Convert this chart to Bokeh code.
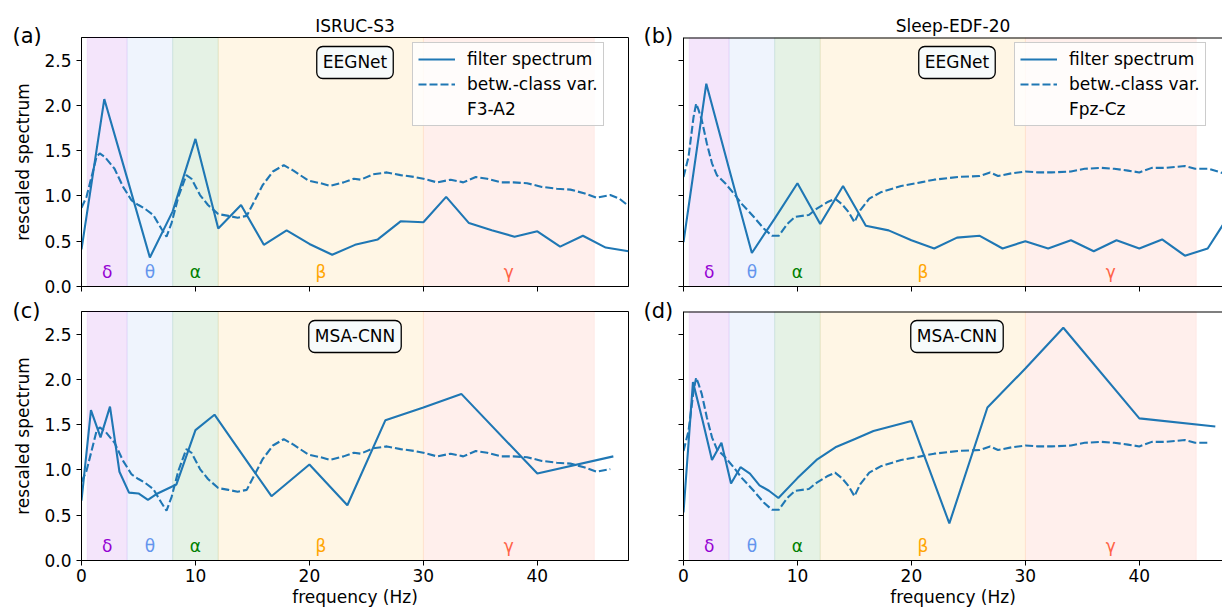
from bokeh.plotting import figure
from bokeh.models import (Range1d, FixedTicker, PrintfTickFormatter, BoxAnnotation, Label,
                          Legend, LegendItem, Span, ColumnDataSource, Title)
from bokeh.layouts import column, row
from bokeh.core.properties import value
from bokeh.embed import file_html
from bokeh.resources import INLINE

FONT = "DejaVu Sans"
BLUE = "#1f77b4"

# ---------------- data ----------------
# between-class variance (dense spectra)
isruc_var_f = [0, 0.44, 1.32, 1.6, 2.05, 2.9, 3.65, 4.4, 5.0, 5.55, 6.3, 7.0, 7.46, 7.9, 8.5, 9.2,
               9.65, 10.4, 11.1, 12.0, 12.9, 13.7, 14.5, 15.2, 15.9, 16.8, 17.75, 18.6, 19.9, 21.0,
               21.8, 23.0, 23.9, 24.5, 25.6, 26.8, 28.0, 29.2, 30.0, 31.2, 32.4, 33.5, 34.6, 35.6,
               36.8, 37.9, 39.1, 40.4, 41.7, 42.9, 44.1, 45.2, 46.4, 47.2, 48.0]
isruc_var_v = [0.87, 0.99, 1.43, 1.47, 1.43, 1.30, 1.10, 0.95, 0.90, 0.86, 0.79, 0.64, 0.55, 0.70,
               0.99, 1.23, 1.19, 1.01, 0.90, 0.80, 0.78, 0.76, 0.78, 0.95, 1.12, 1.27, 1.34, 1.28,
               1.17, 1.14, 1.11, 1.15, 1.19, 1.18, 1.24, 1.26, 1.23, 1.21, 1.19, 1.15, 1.18, 1.15,
               1.21, 1.19, 1.15, 1.15, 1.14, 1.10, 1.08, 1.07, 1.03, 0.98, 1.01, 0.97, 0.89]
edf_var_f = [0, 0.44, 0.88, 1.11, 1.32, 1.6, 2.05, 2.5, 2.93, 3.66, 4.4, 5.13, 6.16, 7.04, 7.77,
             8.36, 9.1, 9.8, 11.0, 11.7, 12.6, 13.3, 13.9, 14.5, 15.0, 15.5, 16.3, 17.3, 19.1,
             20.8, 22.0, 24.1, 26.0, 26.9, 27.6, 28.8, 30.0, 31.1, 32.3, 34.0, 35.2, 36.7, 37.8,
             39.0, 40.0, 41.1, 42.3, 44.0, 44.9, 46.1, 47.4, 48.0]
edf_var_v = [1.21, 1.43, 1.87, 2.02, 1.95, 1.84, 1.58, 1.36, 1.23, 1.14, 1.03, 0.91, 0.77, 0.64,
             0.56, 0.56, 0.69, 0.77, 0.79, 0.86, 0.93, 0.97, 0.91, 0.82, 0.71, 0.84, 0.97, 1.04,
             1.11, 1.15, 1.18, 1.21, 1.22, 1.26, 1.22, 1.25, 1.27, 1.26, 1.26, 1.27, 1.30, 1.31,
             1.30, 1.28, 1.26, 1.31, 1.31, 1.33, 1.30, 1.30, 1.25, 1.22]

# EEGNet filter spectra
eegnet_f = [0, 2, 4, 6, 8, 10, 12, 14, 16, 18, 20, 22, 24, 26, 28, 30, 32, 34, 36, 38, 40, 42, 44, 46, 48]
isruc_eegnet_v = [0.41, 2.07, 1.20, 0.32, 0.83, 1.63, 0.64, 0.90, 0.46, 0.62, 0.47, 0.35, 0.46,
                  0.52, 0.72, 0.71, 0.99, 0.70, 0.62, 0.55, 0.61, 0.44, 0.56, 0.43, 0.39]
edf_eegnet_v = [0.49, 2.24, 1.30, 0.37, 0.75, 1.14, 0.69, 1.11, 0.67, 0.62, 0.51, 0.42, 0.54,
                0.56, 0.42, 0.50, 0.42, 0.51, 0.39, 0.51, 0.42, 0.52, 0.34, 0.42, 0.81]

# MSA-CNN filter spectra
msa_f = [0, 0.83, 1.67, 2.5, 3.33, 4.17, 5.0, 5.83, 6.67, 7.5, 8.33, 10.0, 11.67, 13.33, 15.0,
         16.67, 20.0, 23.33, 26.67, 30.0, 33.33, 40.0, 46.67]
isruc_msa_v = [0.66, 1.66, 1.36, 1.70, 0.98, 0.75, 0.74, 0.67, 0.74, 0.79, 0.84, 1.44, 1.61,
               1.31, 1.01, 0.71, 1.06, 0.61, 1.55, 1.69, 1.84, 0.96, 1.15]
edf_msa_v = [0.53, 1.97, 1.55, 1.11, 1.30, 0.85, 1.03, 0.96, 0.83, 0.77, 0.69, 0.91, 1.11, 1.25,
             1.34, 1.43, 1.54, 0.41, 1.69, 2.12, 2.57, 1.57, 1.48]

band_names = ["δ", "θ", "α", "β", "γ"]
band_lo = [0.5, 4, 8, 12, 30]
band_hi = [4, 8, 12, 30, 45]
band_colors = ["#9400D3", "#6495ED", "#008000", "#FFA500", "#FF6347"]

datasets = ["ISRUC-S3", "Sleep-EDF-20"]
channels = ["F3-A2", "Fpz-Cz"]
models = ["EEGNet", "MSA-CNN"]
letters = ["(a)", "(b)", "(c)", "(d)"]
y_ticks = [0, 0.5, 1.0, 1.5, 2.0, 2.5]
x_ticks = [0, 10, 20, 30, 40]
y_top = 2.75
msa_cut = 46.7  # dense curves in the lower panels stop at the last MSA-CNN frequency


def style_axis(ax, show_labels):
    ax.major_tick_out = 5
    ax.major_tick_in = 0
    ax.minor_tick_line_color = None
    ax.axis_line_color = "black"
    ax.axis_line_width = 1
    ax.major_tick_line_color = "black"
    ax.major_label_text_font = FONT
    ax.axis_label_text_font = FONT
    ax.axis_label_text_font_size = "17px"
    ax.axis_label_text_font_style = "normal"
    ax.axis_label_text_color = "black"
    if show_labels:
        ax.major_label_text_font_size = "17px"
        ax.major_label_text_color = "black"
    else:
        ax.major_label_text_font_size = "1px"
        ax.major_label_text_color = None
        ax.major_label_standoff = 0


def make_panel(idx, left_col, top_row, fs, vs, fd, vd):
    ds = 0 if left_col else 1
    if left_col:
        width, lb, rb, xmax = 638, 81, 10, 48.0
    else:
        width, lb, rb, xmax = 584, 45, 0, 47.3
    if top_row:
        height, tb, bb = 298, 37, 12
    else:
        height, tb, bb = 312, 13, 50
    p = figure(width=width, height=height, output_backend="svg", toolbar_location=None,
               title_location=None,
               x_range=Range1d(0, xmax), y_range=Range1d(0, y_top),
               min_border_left=lb, min_border_right=rb, min_border_top=tb, min_border_bottom=bb,
               x_axis_label=None if top_row else "frequency (Hz)",
               y_axis_label="rescaled spectrum" if left_col else None)
    p.grid.visible = False
    p.background_fill_color = "white"
    p.border_fill_color = "white"
    p.outline_line_color = "black" if left_col else None
    p.outline_line_width = 1

    style_axis(p.xaxis[0], not top_row)
    style_axis(p.yaxis[0], left_col)
    p.xaxis.ticker = FixedTicker(ticks=x_ticks)
    p.yaxis.ticker = FixedTicker(ticks=y_ticks)
    p.yaxis.formatter = PrintfTickFormatter(format="%.1f")
    p.yaxis.axis_label_standoff = 8
    p.xaxis.axis_label_standoff = 2
    p.xaxis.major_label_standoff = 3

    if not left_col:
        # top spine only (the right edge of the right-hand panels is cut off)
        p.add_layout(Span(location=y_top, dimension="width", line_color="black", line_width=2))

    # panel letter (innermost title, pulled down over the frame edge)
    p.add_layout(Title(text=letters[idx], align="left", vertical_align="bottom",
                       offset=-69 if left_col else -40,
                       standoff=-20 if top_row else -22,
                       text_font=FONT, text_font_size="21px", text_font_style="normal",
                       text_color="black"), "above")
    if top_row:
        p.add_layout(Title(text=datasets[ds], align="center", vertical_align="bottom",
                           standoff=-8, text_font=FONT, text_font_size="17px",
                           text_font_style="normal", text_color="black"), "above")

    for lo, hi, c in zip(band_lo, band_hi, band_colors):
        p.add_layout(BoxAnnotation(left=lo, right=hi, fill_color=c, fill_alpha=0.1,
                                   line_color=c, line_alpha=0.08, line_width=1, level="underlay"))
    src = ColumnDataSource(dict(x=[(a + b) / 2 for a, b in zip(band_lo, band_hi)],
                                y=[0.165] * len(band_names), t=band_names, c=band_colors))
    p.text(x="x", y="y", text="t", text_color="c", source=src, text_align="center",
           text_baseline="middle", text_font=value(FONT), text_font_size="17px")

    r_solid = p.line(fs, vs, line_color=BLUE, line_width=2.1)
    r_dash = p.line(fd, vd, line_color=BLUE, line_width=2.1, line_dash="8 3")

    model = models[0] if top_row else models[1]
    p.add_layout(Label(x=24, y=2.474, text=model, text_align="center", text_baseline="middle",
                       text_font=FONT, text_font_size="17px", text_color="black",
                       border_line_color="black", border_line_width=1.3,
                       background_fill_color="#f7fbfb", padding=6, border_radius=6))

    if top_row:
        r_blank = p.line([0], [0], line_alpha=0)
        legend = Legend(items=[LegendItem(label="filter spectrum", renderers=[r_solid]),
                               LegendItem(label="betw.-class var.", renderers=[r_dash]),
                               LegendItem(label=channels[ds], renderers=[r_blank])],
                        location=(331, 160), label_text_font=FONT, label_text_font_size="17px",
                        label_text_color="black", glyph_width=37, glyph_height=22,
                        label_height=22, spacing=3, padding=5, label_standoff=12, margin=0,
                        border_line_color="#cccccc", border_line_alpha=1,
                        background_fill_color="white", background_fill_alpha=0.8)
        p.add_layout(legend)
    return p


def cut(f, v, lim):
    pairs = [(a, b) for a, b in zip(f, v) if a <= lim]
    return [a for a, _ in pairs], [b for _, b in pairs]


pa = make_panel(0, True, True, eegnet_f, isruc_eegnet_v, isruc_var_f, isruc_var_v)
pb = make_panel(1, False, True, eegnet_f, edf_eegnet_v, edf_var_f, edf_var_v)
fc, vc = cut(isruc_var_f, isruc_var_v, msa_cut)
pc = make_panel(2, True, False, msa_f, isruc_msa_v, fc, vc)
fdd, vdd = cut(edf_var_f, edf_var_v, msa_cut)
pd = make_panel(3, False, False, msa_f, edf_msa_v, fdd, vdd)

layout = column(row(pa, pb), row(pc, pd))
open("out.html", "w").write(file_html(layout, INLINE))
